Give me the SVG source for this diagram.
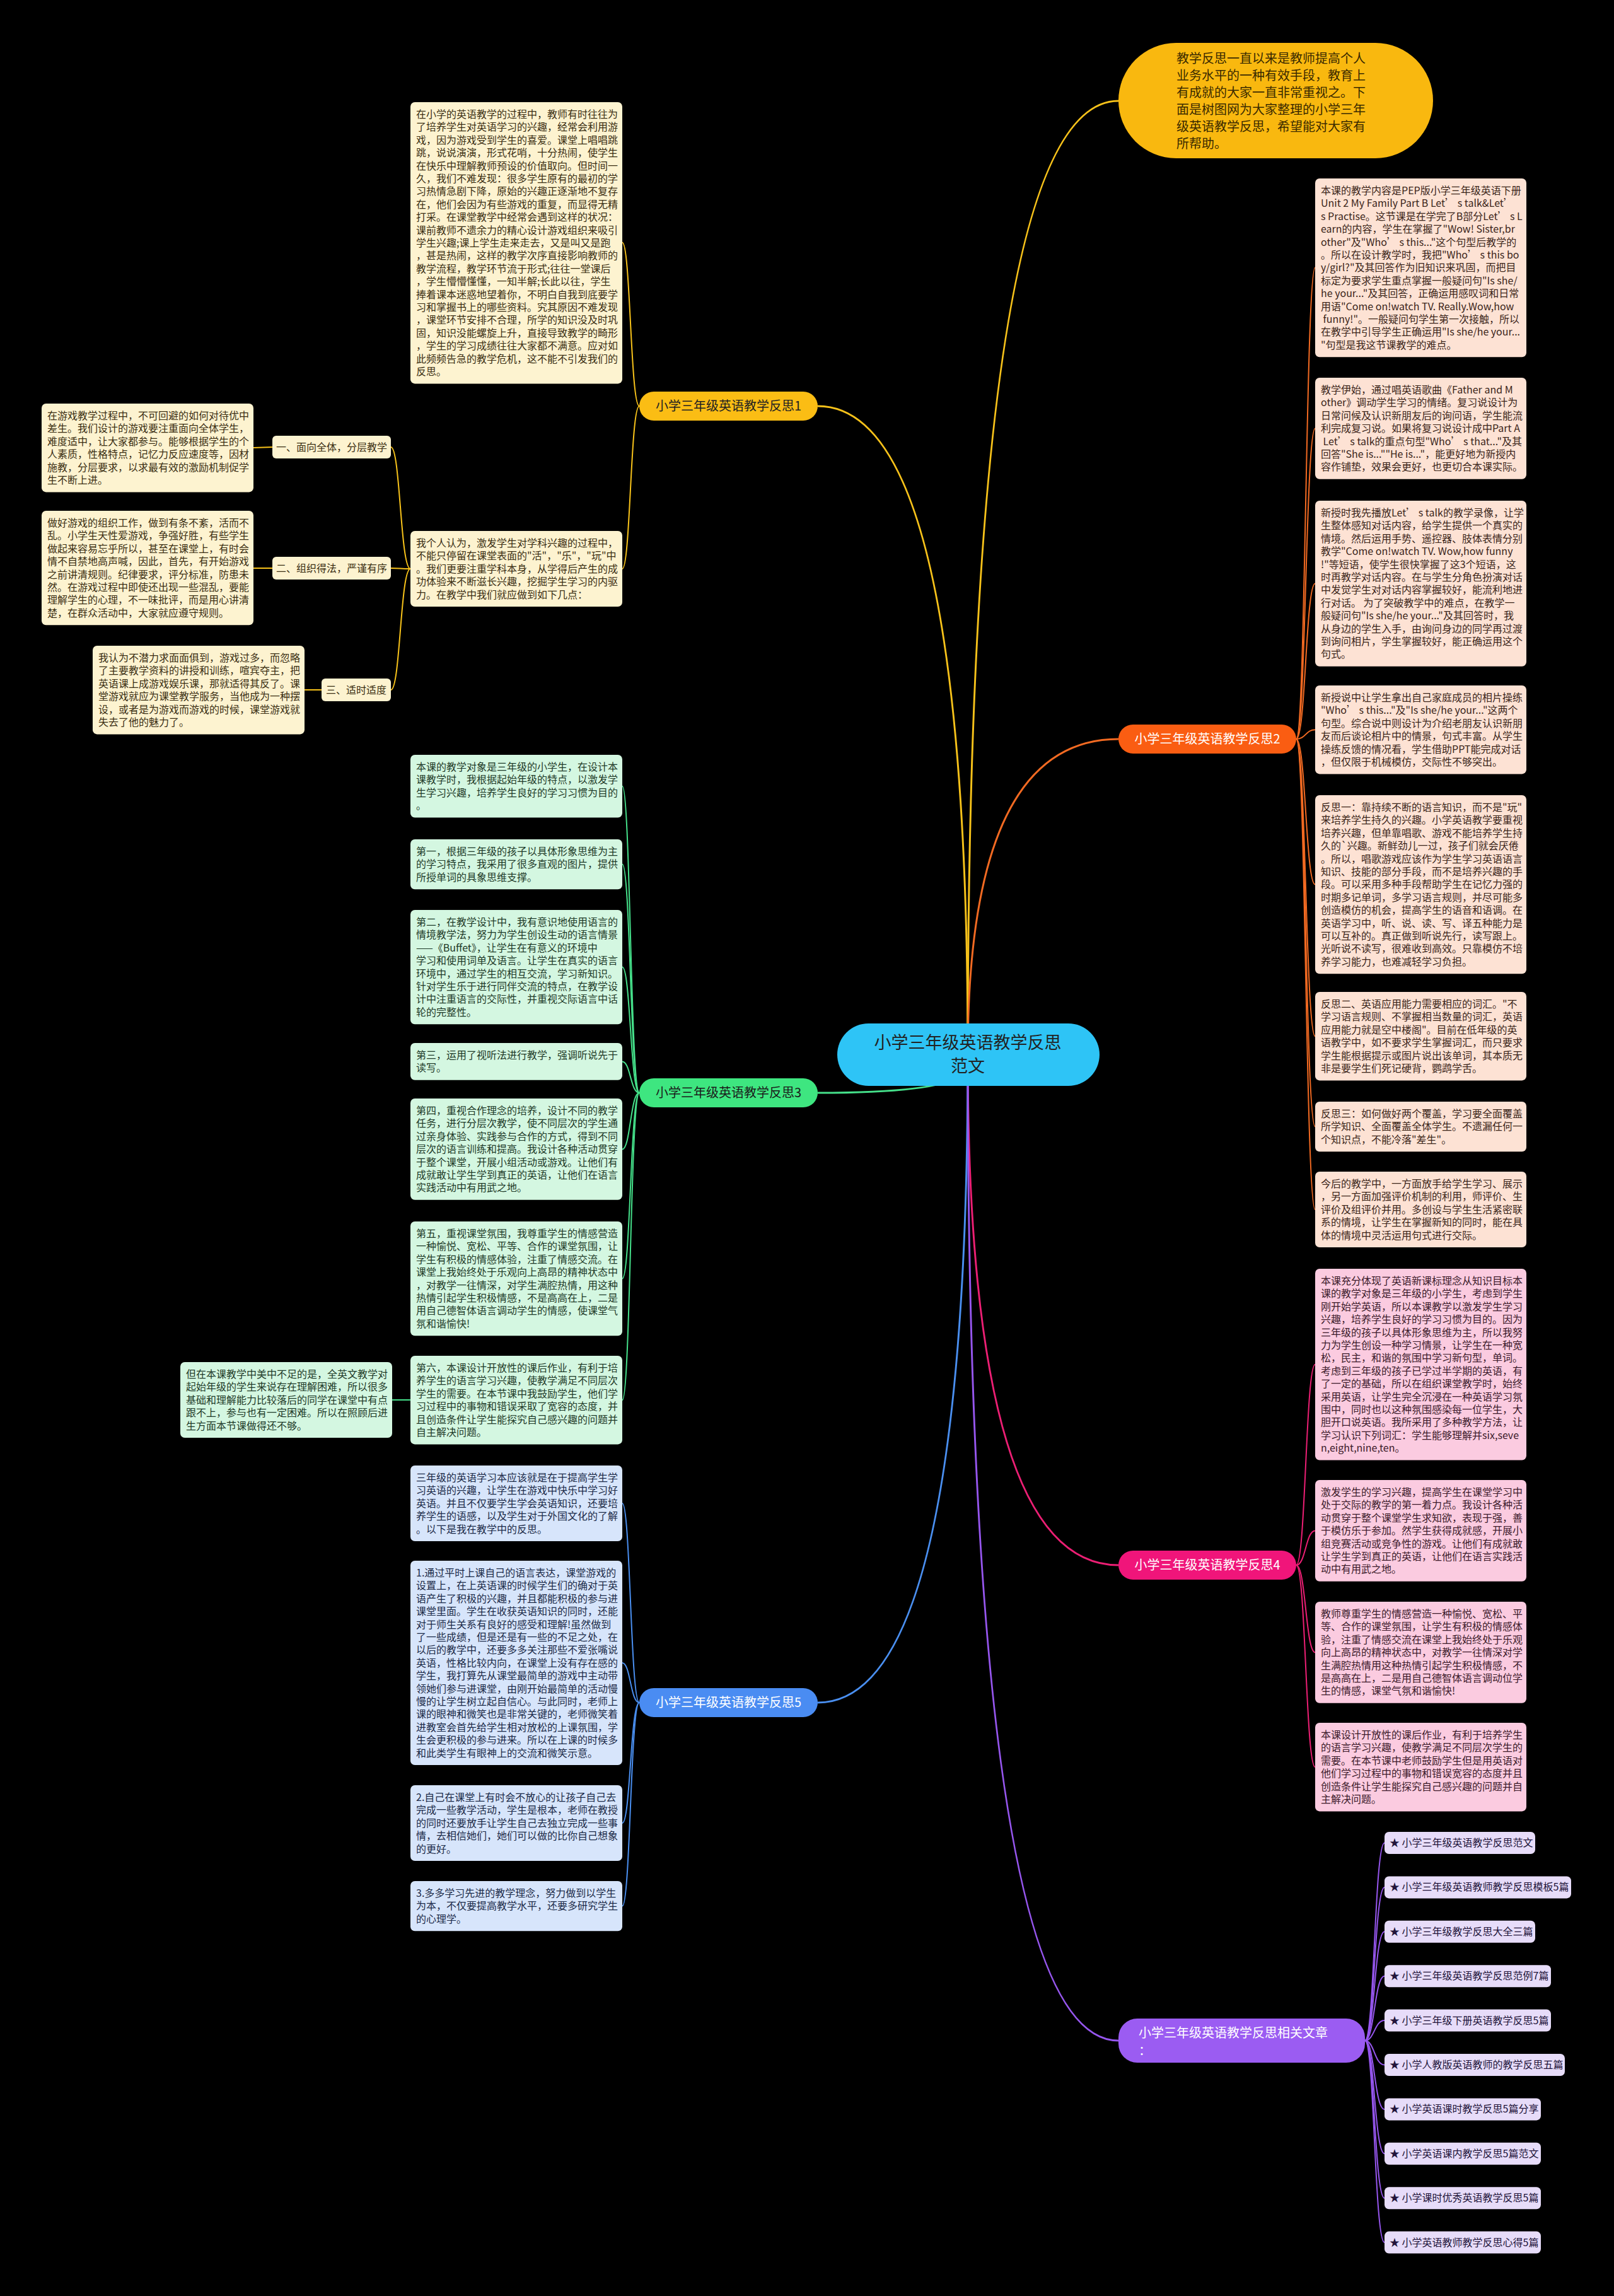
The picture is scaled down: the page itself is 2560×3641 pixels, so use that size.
<svg xmlns="http://www.w3.org/2000/svg" width="2560" height="3641" viewBox="0 0 2560 3641">
<style>
text{font-family:"Noto Sans CJK SC","Noto Sans",sans-serif}
.t{font-size:16px}
.lb{font-size:20px}
.k{fill:none;stroke-width:2}
.km{fill:none;stroke-width:3}
.y{stroke:#f7c21a}.o{stroke:#f26a22}.g{stroke:#45e08a}.p{stroke:#ec1f74}.b{stroke:#4a8ff0}.v{stroke:#9656ee}
.bx1{fill:#fdf3d0}.tx1{fill:#3a2e12}
.bx3{fill:#d4f7e1}.tx3{fill:#1e3a28}
.bx5{fill:#d7e5fb}.tx5{fill:#1b2a48}
.bx2{fill:#fde2d4}.tx2{fill:#3b2519}
.bx4{fill:#fbcbe0}.tx4{fill:#3b1a2a}
.bxv{fill:#e7dcf9}.txv{fill:#22143a}
</style>
<rect x="0" y="0" width="2560" height="3641" fill="#000"/>
<g id="connectors">
<path class="km y" d="M1535,1672 Q1535,160 1774,160"/>
<path class="km y" d="M1535,1672 Q1535,644 1297,644"/>
<path class="km o" d="M1535,1672 Q1535,1172 1774,1172"/>
<path class="km g" d="M1535,1690 Q1535,1733 1297,1733"/>
<path class="km p" d="M1535,1672 Q1535,2482 1774,2482"/>
<path class="km b" d="M1535,1672 Q1535,2700 1297,2700"/>
<path class="km v" d="M1535,1672 Q1535,3236 1774,3236"/>
<path class="k y" d="M1014,644 C1000,644 1000,384.6 987,384.6"/>
<path class="k y" d="M1014,644 C1000,644 1000,902 987,902"/>
<path class="k y" d="M651,902 C635,902 635,709 620,709"/>
<path class="k y" d="M651,902 C635,902 635,901 620,901"/>
<path class="k y" d="M651,902 C635,902 635,1094 620,1094"/>
<path class="k y" d="M432,709 L402,710"/>
<path class="k y" d="M432,901 L402,901"/>
<path class="k y" d="M510,1094 L483,1094"/>
<path class="k g" d="M1014,1733 C1000,1733 1000,1246.8 987,1246.8"/>
<path class="k g" d="M1014,1733 C1000,1733 1000,1370.6 987,1370.6"/>
<path class="k g" d="M1014,1733 C1000,1733 1000,1533.6 987,1533.6"/>
<path class="k g" d="M1014,1733 C1000,1733 1000,1683.4 987,1683.4"/>
<path class="k g" d="M1014,1733 C1000,1733 1000,1822.4 987,1822.4"/>
<path class="k g" d="M1014,1733 C1000,1733 1000,2027.6 987,2027.6"/>
<path class="k g" d="M1014,1733 C1000,1733 1000,2220.2 987,2220.2"/>
<path class="k g" d="M651,2220 L622,2220"/>
<path class="k b" d="M1014,2700 C1000,2700 1000,2384 987,2384"/>
<path class="k b" d="M1014,2700 C1000,2700 1000,2637 987,2637"/>
<path class="k b" d="M1014,2700 C1000,2700 1000,2891 987,2891"/>
<path class="k b" d="M1014,2700 C1000,2700 1000,3022.6 987,3022.6"/>
<path class="k o" d="M2056,1172 C2071,1172 2071,424.6 2086,424.6"/>
<path class="k o" d="M2056,1172 C2071,1172 2071,679.4 2086,679.4"/>
<path class="k o" d="M2056,1172 C2071,1172 2071,925.4 2086,925.4"/>
<path class="k o" d="M2056,1172 C2071,1172 2071,1157.2 2086,1157.2"/>
<path class="k o" d="M2056,1172 C2071,1172 2071,1402.6 2086,1402.6"/>
<path class="k o" d="M2056,1172 C2071,1172 2071,1643.2 2086,1643.2"/>
<path class="k o" d="M2056,1172 C2071,1172 2071,1786.6 2086,1786.6"/>
<path class="k o" d="M2056,1172 C2071,1172 2071,1918 2086,1918"/>
<path class="k p" d="M2056,2482 C2071,2482 2071,2163.8 2086,2163.8"/>
<path class="k p" d="M2056,2482 C2071,2482 2071,2427.4 2086,2427.4"/>
<path class="k p" d="M2056,2482 C2071,2482 2071,2620.4 2086,2620.4"/>
<path class="k p" d="M2056,2482 C2071,2482 2071,2802.2 2086,2802.2"/>
<path class="k v" d="M2165,3236 C2180,3236 2180,2922.5 2196,2922.5"/>
<path class="k v" d="M2165,3236 C2180,3236 2180,2992.9 2196,2992.9"/>
<path class="k v" d="M2165,3236 C2180,3236 2180,3063.3 2196,3063.3"/>
<path class="k v" d="M2165,3236 C2180,3236 2180,3133.7 2196,3133.7"/>
<path class="k v" d="M2165,3236 C2180,3236 2180,3204.1 2196,3204.1"/>
<path class="k v" d="M2165,3236 C2180,3236 2180,3274.5 2196,3274.5"/>
<path class="k v" d="M2165,3236 C2180,3236 2180,3344.9 2196,3344.9"/>
<path class="k v" d="M2165,3236 C2180,3236 2180,3415.3 2196,3415.3"/>
<path class="k v" d="M2165,3236 C2180,3236 2180,3485.7 2196,3485.7"/>
<path class="k v" d="M2165,3236 C2180,3236 2180,3556.1 2196,3556.1"/>
</g>

<g id="center">
<rect x="1328" y="1623" width="416" height="99" rx="49.5" fill="#2ec4f6"/>
<text x="1535" y="1663" font-size="27" text-anchor="middle" fill="#222"><tspan x="1535">小学三年级英语教学反思</tspan><tspan x="1535" dy="37">范文</tspan></text>
</g>

<g id="intro">
<rect x="1774" y="68" width="499" height="183" rx="91.5" fill="#f9b80f"/>
<text x="1866" y="100" font-size="20" fill="#3a2a00"><tspan x="1866">教学反思一直以来是教师提高个人</tspan><tspan x="1866" dy="27">业务水平的一种有效手段，教育上</tspan><tspan x="1866" dy="27">有成就的大家一直非常重视之。下</tspan><tspan x="1866" dy="27">面是树图网为大家整理的小学三年</tspan><tspan x="1866" dy="27">级英语教学反思，希望能对大家有</tspan><tspan x="1866" dy="27">所帮助。</tspan></text>
</g>

<g id="branch1">
<rect x="1014" y="621" width="283" height="46" rx="23" fill="#fbbd14"/>
<text class="lb" x="1155.5" y="651" text-anchor="middle" fill="#222">小学三年级英语教学反思1</text>
</g>
<g id="b1-intro">
<rect class="bx1" x="651" y="162" width="336" height="446.4" rx="7"/>
<text class="t tx1" x="660" y="187"><tspan x="660">在小学的英语教学的过程中，教师有时往往为</tspan><tspan x="660" dy="20.4">了培养学生对英语学习的兴趣，经常会利用游</tspan><tspan x="660" dy="20.4">戏，因为游戏受到学生的喜爱。课堂上唱唱跳</tspan><tspan x="660" dy="20.4">跳，说说演演，形式花哨，十分热闹，使学生</tspan><tspan x="660" dy="20.4">在快乐中理解教师预设的价值取向。但时间一</tspan><tspan x="660" dy="20.4">久，我们不难发现：很多学生原有的最初的学</tspan><tspan x="660" dy="20.4">习热情急剧下降，原始的兴趣正逐渐地不复存</tspan><tspan x="660" dy="20.4">在，他们会因为有些游戏的重复，而显得无精</tspan><tspan x="660" dy="20.4">打采。在课堂教学中经常会遇到这样的状况：</tspan><tspan x="660" dy="20.4">课前教师不遗余力的精心设计游戏组织来吸引</tspan><tspan x="660" dy="20.4">学生兴趣;课上学生走来走去，又是叫又是跑</tspan><tspan x="660" dy="20.4">，甚是热闹，这样的教学次序直接影响教师的</tspan><tspan x="660" dy="20.4">教学流程，教学环节流于形式;往往一堂课后</tspan><tspan x="660" dy="20.4">，学生懵懵懂懂，一知半解;长此以往，学生</tspan><tspan x="660" dy="20.4">捧着课本迷惑地望着你，不明白自我到底要学</tspan><tspan x="660" dy="20.4">习和掌握书上的哪些资料。究其原因不难发现</tspan><tspan x="660" dy="20.4">，课堂环节安排不合理，所学的知识没及时巩</tspan><tspan x="660" dy="20.4">固，知识没能螺旋上升，直接导致教学的畸形</tspan><tspan x="660" dy="20.4">，学生的学习成绩往往大家都不满意。应对如</tspan><tspan x="660" dy="20.4">此频频告急的教学危机，这不能不引发我们的</tspan><tspan x="660" dy="20.4">反思。</tspan></text>
</g>
<g id="b1-view">
<rect class="bx1" x="651" y="842" width="336" height="120" rx="7"/>
<text class="t tx1" x="660" y="867"><tspan x="660">我个人认为，激发学生对学科兴趣的过程中，</tspan><tspan x="660" dy="20.4">不能只停留在课堂表面的"活"，"乐"，"玩"中</tspan><tspan x="660" dy="20.4">。我们更要注重学科本身，从学得后产生的成</tspan><tspan x="660" dy="20.4">功体验来不断滋长兴趣，挖掘学生学习的内驱</tspan><tspan x="660" dy="20.4">力。在教学中我们就应做到如下几点：</tspan></text>
</g>
<g id="b1-p1">
<rect class="bx1" x="432" y="691" width="188" height="36" rx="6"/>
<text class="t tx1" x="526" y="714.6" text-anchor="middle">一、面向全体，分层教学</text>
</g>
<g id="b1-p2">
<rect class="bx1" x="432" y="883" width="188" height="36" rx="6"/>
<text class="t tx1" x="526" y="906.6" text-anchor="middle">二、组织得法，严谨有序</text>
</g>
<g id="b1-p3">
<rect class="bx1" x="510" y="1076" width="110" height="36" rx="6"/>
<text class="t tx1" x="565" y="1099.6" text-anchor="middle">三、适时适度</text>
</g>
<g id="b1-p1-text">
<rect class="bx1" x="66" y="640" width="336" height="140.4" rx="7"/>
<text class="t tx1" x="75" y="665"><tspan x="75">在游戏教学过程中，不可回避的如何对待优中</tspan><tspan x="75" dy="20.4">差生。我们设计的游戏要注重面向全体学生，</tspan><tspan x="75" dy="20.4">难度适中，让大家都参与。能够根据学生的个</tspan><tspan x="75" dy="20.4">人素质，性格特点，记忆力反应速度等，因材</tspan><tspan x="75" dy="20.4">施教，分层要求，以求最有效的激励机制促学</tspan><tspan x="75" dy="20.4">生不断上进。</tspan></text>
</g>
<g id="b1-p2-text">
<rect class="bx1" x="66" y="810" width="336" height="181.2" rx="7"/>
<text class="t tx1" x="75" y="835"><tspan x="75">做好游戏的组织工作，做到有条不紊，活而不</tspan><tspan x="75" dy="20.4">乱。小学生天性爱游戏，争强好胜，有些学生</tspan><tspan x="75" dy="20.4">做起来容易忘乎所以，甚至在课堂上，有时会</tspan><tspan x="75" dy="20.4">情不自禁地高声喊，因此，首先，有开始游戏</tspan><tspan x="75" dy="20.4">之前讲清规则。纪律要求，评分标准，防患未</tspan><tspan x="75" dy="20.4">然。在游戏过程中即使还出现一些混乱，要能</tspan><tspan x="75" dy="20.4">理解学生的心理，不一味批评，而是用心讲清</tspan><tspan x="75" dy="20.4">楚，在群众活动中，大家就应遵守规则。</tspan></text>
</g>
<g id="b1-p3-text">
<rect class="bx1" x="147" y="1024" width="336" height="140.4" rx="7"/>
<text class="t tx1" x="156" y="1049"><tspan x="156">我认为不潜力求面面俱到，游戏过多，而忽略</tspan><tspan x="156" dy="20.4">了主要教学资料的讲授和训练，喧宾夺主，把</tspan><tspan x="156" dy="20.4">英语课上成游戏娱乐课，那就适得其反了。课</tspan><tspan x="156" dy="20.4">堂游戏就应为课堂教学服务，当他成为一种摆</tspan><tspan x="156" dy="20.4">设，或者是为游戏而游戏的时候，课堂游戏就</tspan><tspan x="156" dy="20.4">失去了他的魅力了。</tspan></text>
</g>

<g id="branch3">
<rect x="1014" y="1710" width="283" height="46" rx="23" fill="#3ee680"/>
<text class="lb" x="1155.5" y="1740" text-anchor="middle" fill="#1a1a1a">小学三年级英语教学反思3</text>
</g>
<g id="b3-1">
<rect class="bx3" x="651" y="1197" width="336" height="99.6" rx="7"/>
<text class="t tx3" x="660" y="1222"><tspan x="660">本课的教学对象是三年级的小学生，在设计本</tspan><tspan x="660" dy="20.4">课教学时，我根据起始年级的特点，以激发学</tspan><tspan x="660" dy="20.4">生学习兴趣，培养学生良好的学习习惯为目的</tspan><tspan x="660" dy="20.4">。</tspan></text>
</g>
<g id="b3-2">
<rect class="bx3" x="651" y="1331" width="336" height="79.2" rx="7"/>
<text class="t tx3" x="660" y="1356"><tspan x="660">第一，根据三年级的孩子以具体形象思维为主</tspan><tspan x="660" dy="20.4">的学习特点，我采用了很多直观的图片，提供</tspan><tspan x="660" dy="20.4">所授单词的具象思维支撑。</tspan></text>
</g>
<g id="b3-3">
<rect class="bx3" x="651" y="1443" width="336" height="181.2" rx="7"/>
<text class="t tx3" x="660" y="1468"><tspan x="660">第二，在教学设计中，我有意识地使用语言的</tspan><tspan x="660" dy="20.4">情境教学法，努力为学生创设生动的语言情景</tspan><tspan x="660" dy="20.4">——《Buffet》，让学生在有意义的环境中</tspan><tspan x="660" dy="20.4">学习和使用词单及语言。让学生在真实的语言</tspan><tspan x="660" dy="20.4">环境中，通过学生的相互交流，学习新知识。</tspan><tspan x="660" dy="20.4">针对学生乐于进行同伴交流的特点，在教学设</tspan><tspan x="660" dy="20.4">计中注重语言的交际性，并重视交际语言中话</tspan><tspan x="660" dy="20.4">轮的完整性。</tspan></text>
</g>
<g id="b3-4">
<rect class="bx3" x="651" y="1654" width="336" height="58.8" rx="7"/>
<text class="t tx3" x="660" y="1679"><tspan x="660">第三，运用了视听法进行教学，强调听说先于</tspan><tspan x="660" dy="20.4">读写。</tspan></text>
</g>
<g id="b3-5">
<rect class="bx3" x="651" y="1742" width="336" height="160.8" rx="7"/>
<text class="t tx3" x="660" y="1767"><tspan x="660">第四，重视合作理念的培养，设计不同的教学</tspan><tspan x="660" dy="20.4">任务，进行分层次教学，使不同层次的学生通</tspan><tspan x="660" dy="20.4">过亲身体验、实践参与合作的方式，得到不同</tspan><tspan x="660" dy="20.4">层次的语言训练和提高。我设计各种活动贯穿</tspan><tspan x="660" dy="20.4">于整个课堂，开展小组活动或游戏。让他们有</tspan><tspan x="660" dy="20.4">成就敢让学生学到真正的英语，让他们在语言</tspan><tspan x="660" dy="20.4">实践活动中有用武之地。</tspan></text>
</g>
<g id="b3-6">
<rect class="bx3" x="651" y="1937" width="336" height="181.2" rx="7"/>
<text class="t tx3" x="660" y="1962"><tspan x="660">第五，重视课堂氛围，我尊重学生的情感营造</tspan><tspan x="660" dy="20.4">一种愉悦、宽松、平等、合作的课堂氛围，让</tspan><tspan x="660" dy="20.4">学生有积极的情感体验，注重了情感交流。在</tspan><tspan x="660" dy="20.4">课堂上我始终处于乐观向上高昂的精神状态中</tspan><tspan x="660" dy="20.4">，对教学一往情深，对学生满腔热情，用这种</tspan><tspan x="660" dy="20.4">热情引起学生积极情感，不是高高在上，二是</tspan><tspan x="660" dy="20.4">用自己德智体语言调动学生的情感，使课堂气</tspan><tspan x="660" dy="20.4">氛和谐愉快!</tspan></text>
</g>
<g id="b3-7">
<rect class="bx3" x="651" y="2150" width="336" height="140.4" rx="7"/>
<text class="t tx3" x="660" y="2175"><tspan x="660">第六，本课设计开放性的课后作业，有利于培</tspan><tspan x="660" dy="20.4">养学生的语言学习兴趣，使教学满足不同层次</tspan><tspan x="660" dy="20.4">学生的需要。在本节课中我鼓励学生，他们学</tspan><tspan x="660" dy="20.4">习过程中的事物和错误采取了宽容的态度，并</tspan><tspan x="660" dy="20.4">且创造条件让学生能探究自己感兴趣的问题并</tspan><tspan x="660" dy="20.4">自主解决问题。</tspan></text>
</g>
<g id="b3-7-1">
<rect class="bx3" x="286" y="2160" width="336" height="120" rx="7"/>
<text class="t tx3" x="295" y="2185"><tspan x="295">但在本课教学中美中不足的是，全英文教学对</tspan><tspan x="295" dy="20.4">起始年级的学生来说存在理解困难，所以很多</tspan><tspan x="295" dy="20.4">基础和理解能力比较落后的同学在课堂中有点</tspan><tspan x="295" dy="20.4">跟不上，参与也有一定困难。所以在照顾后进</tspan><tspan x="295" dy="20.4">生方面本节课做得还不够。</tspan></text>
</g>

<g id="branch5">
<rect x="1014" y="2677" width="283" height="46" rx="23" fill="#4a8cf2"/>
<text class="lb" x="1155.5" y="2707" text-anchor="middle" fill="#fff">小学三年级英语教学反思5</text>
</g>
<g id="b5-1">
<rect class="bx5" x="651" y="2324" width="336" height="120" rx="7"/>
<text class="t tx5" x="660" y="2349"><tspan x="660">三年级的英语学习本应该就是在于提高学生学</tspan><tspan x="660" dy="20.4">习英语的兴趣，让学生在游戏中快乐中学习好</tspan><tspan x="660" dy="20.4">英语。并且不仅要学生学会英语知识，还要培</tspan><tspan x="660" dy="20.4">养学生的语感，以及学生对于外国文化的了解</tspan><tspan x="660" dy="20.4">。以下是我在教学中的反思。</tspan></text>
</g>
<g id="b5-2">
<rect class="bx5" x="651" y="2475" width="336" height="324" rx="7"/>
<text class="t tx5" x="660" y="2500"><tspan x="660">1.通过平时上课自己的语言表达，课堂游戏的</tspan><tspan x="660" dy="20.4">设置上，在上英语课的时候学生们的确对于英</tspan><tspan x="660" dy="20.4">语产生了积极的兴趣，并且都能积极的参与进</tspan><tspan x="660" dy="20.4">课堂里面。学生在收获英语知识的同时，还能</tspan><tspan x="660" dy="20.4">对于师生关系有良好的感受和理解!虽然做到</tspan><tspan x="660" dy="20.4">了一些成绩，但是还是有一些的不足之处，在</tspan><tspan x="660" dy="20.4">以后的教学中，还要多多关注那些不爱张嘴说</tspan><tspan x="660" dy="20.4">英语，性格比较内向，在课堂上没有存在感的</tspan><tspan x="660" dy="20.4">学生，我打算先从课堂最简单的游戏中主动带</tspan><tspan x="660" dy="20.4">领她们参与进课堂，由刚开始最简单的活动慢</tspan><tspan x="660" dy="20.4">慢的让学生树立起自信心。与此同时，老师上</tspan><tspan x="660" dy="20.4">课的眼神和微笑也是非常关键的，老师微笑着</tspan><tspan x="660" dy="20.4">进教室会首先给学生相对放松的上课氛围，学</tspan><tspan x="660" dy="20.4">生会更积极的参与进来。所以在上课的时候多</tspan><tspan x="660" dy="20.4">和此类学生有眼神上的交流和微笑示意。</tspan></text>
</g>
<g id="b5-3">
<rect class="bx5" x="651" y="2831" width="336" height="120" rx="7"/>
<text class="t tx5" x="660" y="2856"><tspan x="660">2.自己在课堂上有时会不放心的让孩子自己去</tspan><tspan x="660" dy="20.4">完成一些教学活动，学生是根本，老师在教授</tspan><tspan x="660" dy="20.4">的同时还要放手让学生自己去独立完成一些事</tspan><tspan x="660" dy="20.4">情，去相信她们，她们可以做的比你自己想象</tspan><tspan x="660" dy="20.4">的更好。</tspan></text>
</g>
<g id="b5-4">
<rect class="bx5" x="651" y="2983" width="336" height="79.2" rx="7"/>
<text class="t tx5" x="660" y="3008"><tspan x="660">3.多多学习先进的教学理念，努力做到以学生</tspan><tspan x="660" dy="20.4">为本，不仅要提高教学水平，还要多研究学生</tspan><tspan x="660" dy="20.4">的心理学。</tspan></text>
</g>

<g id="branch2">
<rect x="1774" y="1149" width="282" height="46" rx="23" fill="#fa5d12"/>
<text class="lb" x="1915" y="1179" text-anchor="middle" fill="#fff">小学三年级英语教学反思2</text>
</g>
<g id="b2-1">
<rect class="bx2" x="2086" y="283" width="335" height="283.2" rx="7"/>
<text class="t tx2" x="2095" y="308"><tspan x="2095">本课的教学内容是PEP版小学三年级英语下册</tspan><tspan x="2095" dy="20.4">Unit 2 My Family Part B Let’ s talk&amp;Let’</tspan><tspan x="2095" dy="20.4">s Practise。这节课是在学完了B部分Let’ s L</tspan><tspan x="2095" dy="20.4">earn的内容，学生在掌握了"Wow! Sister,br</tspan><tspan x="2095" dy="20.4">other"及"Who’ s this..."这个句型后教学的</tspan><tspan x="2095" dy="20.4">。所以在设计教学时，我把"Who’ s this bo</tspan><tspan x="2095" dy="20.4">y/girl?"及其回答作为旧知识来巩固，而把目</tspan><tspan x="2095" dy="20.4">标定为要求学生重点掌握一般疑问句"Is she/</tspan><tspan x="2095" dy="20.4">he your..."及其回答，正确运用感叹词和日常</tspan><tspan x="2095" dy="20.4">用语"Come on!watch TV. Really.Wow,how</tspan><tspan x="2095" dy="20.4"> funny!"。一般疑问句学生第一次接触，所以</tspan><tspan x="2095" dy="20.4">在教学中引导学生正确运用"Is she/he your...</tspan><tspan x="2095" dy="20.4">"句型是我这节课教学的难点。</tspan></text>
</g>
<g id="b2-2">
<rect class="bx2" x="2086" y="599" width="335" height="160.8" rx="7"/>
<text class="t tx2" x="2095" y="624"><tspan x="2095">教学伊始，通过唱英语歌曲《Father and M</tspan><tspan x="2095" dy="20.4">other》调动学生学习的情绪。复习说设计为</tspan><tspan x="2095" dy="20.4">日常问候及认识新朋友后的询问语，学生能流</tspan><tspan x="2095" dy="20.4">利完成复习说。如果将复习说设计成中Part A</tspan><tspan x="2095" dy="20.4"> Let’ s talk的重点句型"Who’ s that..."及其</tspan><tspan x="2095" dy="20.4">回答"She is...""He is..."，能更好地为新授内</tspan><tspan x="2095" dy="20.4">容作铺垫，效果会更好，也更切合本课实际。</tspan></text>
</g>
<g id="b2-3">
<rect class="bx2" x="2086" y="794" width="335" height="262.8" rx="7"/>
<text class="t tx2" x="2095" y="819"><tspan x="2095">新授时我先播放Let’ s talk的教学录像，让学</tspan><tspan x="2095" dy="20.4">生整体感知对话内容，给学生提供一个真实的</tspan><tspan x="2095" dy="20.4">情境。然后运用手势、遥控器、肢体表情分别</tspan><tspan x="2095" dy="20.4">教学"Come on!watch TV. Wow,how funny</tspan><tspan x="2095" dy="20.4">!"等短语，使学生很快掌握了这3个短语，这</tspan><tspan x="2095" dy="20.4">时再教学对话内容。在与学生分角色扮演对话</tspan><tspan x="2095" dy="20.4">中发觉学生对对话内容掌握较好，能流利地进</tspan><tspan x="2095" dy="20.4">行对话。 为了突破教学中的难点，在教学一</tspan><tspan x="2095" dy="20.4">般疑问句"Is she/he your..."及其回答时，我</tspan><tspan x="2095" dy="20.4">从身边的学生入手，由询问身边的同学再过渡</tspan><tspan x="2095" dy="20.4">到询问相片，学生掌握较好，能正确运用这个</tspan><tspan x="2095" dy="20.4">句式。</tspan></text>
</g>
<g id="b2-4">
<rect class="bx2" x="2086" y="1087" width="335" height="140.4" rx="7"/>
<text class="t tx2" x="2095" y="1112"><tspan x="2095">新授说中让学生拿出自己家庭成员的相片操练</tspan><tspan x="2095" dy="20.4">"Who’ s this..."及"Is she/he your..."这两个</tspan><tspan x="2095" dy="20.4">句型。综合说中则设计为介绍老朋友认识新朋</tspan><tspan x="2095" dy="20.4">友而后谈论相片中的情景，句式丰富。从学生</tspan><tspan x="2095" dy="20.4">操练反馈的情况看，学生借助PPT能完成对话</tspan><tspan x="2095" dy="20.4">，但仅限于机械模仿，交际性不够突出。</tspan></text>
</g>
<g id="b2-5">
<rect class="bx2" x="2086" y="1261" width="335" height="283.2" rx="7"/>
<text class="t tx2" x="2095" y="1286"><tspan x="2095">反思一：靠持续不断的语言知识，而不是"玩"</tspan><tspan x="2095" dy="20.4">来培养学生持久的兴趣。小学英语教学要重视</tspan><tspan x="2095" dy="20.4">培养兴趣，但单靠唱歌、游戏不能培养学生持</tspan><tspan x="2095" dy="20.4">久的`兴趣。新鲜劲儿一过，孩子们就会厌倦</tspan><tspan x="2095" dy="20.4">。所以，唱歌游戏应该作为学生学习英语语言</tspan><tspan x="2095" dy="20.4">知识、技能的部分手段，而不是培养兴趣的手</tspan><tspan x="2095" dy="20.4">段。可以采用多种手段帮助学生在记忆力强的</tspan><tspan x="2095" dy="20.4">时期多记单词，多学习语言规则，并尽可能多</tspan><tspan x="2095" dy="20.4">创造模仿的机会，提高学生的语音和语调。在</tspan><tspan x="2095" dy="20.4">英语学习中，听、说、读、写、译五种能力是</tspan><tspan x="2095" dy="20.4">可以互补的。真正做到听说先行，读写跟上。</tspan><tspan x="2095" dy="20.4">光听说不读写，很难收到高效。只靠模仿不培</tspan><tspan x="2095" dy="20.4">养学习能力，也难减轻学习负担。</tspan></text>
</g>
<g id="b2-6">
<rect class="bx2" x="2086" y="1573" width="335" height="140.4" rx="7"/>
<text class="t tx2" x="2095" y="1598"><tspan x="2095">反思二、英语应用能力需要相应的词汇。"不</tspan><tspan x="2095" dy="20.4">学习语言规则、不掌握相当数量的词汇，英语</tspan><tspan x="2095" dy="20.4">应用能力就是空中楼阁"。目前在低年级的英</tspan><tspan x="2095" dy="20.4">语教学中，如不要求学生掌握词汇，而只要求</tspan><tspan x="2095" dy="20.4">学生能根据提示或图片说出该单词，其本质无</tspan><tspan x="2095" dy="20.4">非是要学生们死记硬背，鹦鹉学舌。</tspan></text>
</g>
<g id="b2-7">
<rect class="bx2" x="2086" y="1747" width="335" height="79.2" rx="7"/>
<text class="t tx2" x="2095" y="1772"><tspan x="2095">反思三：如何做好两个覆盖，学习要全面覆盖</tspan><tspan x="2095" dy="20.4">所学知识、全面覆盖全体学生。不遗漏任何一</tspan><tspan x="2095" dy="20.4">个知识点，不能冷落"差生"。</tspan></text>
</g>
<g id="b2-8">
<rect class="bx2" x="2086" y="1858" width="335" height="120" rx="7"/>
<text class="t tx2" x="2095" y="1883"><tspan x="2095">今后的教学中，一方面放手给学生学习、展示</tspan><tspan x="2095" dy="20.4">，另一方面加强评价机制的利用，师评价、生</tspan><tspan x="2095" dy="20.4">评价及组评价并用。多创设与学生生活紧密联</tspan><tspan x="2095" dy="20.4">系的情境，让学生在掌握新知的同时，能在具</tspan><tspan x="2095" dy="20.4">体的情境中灵活运用句式进行交际。</tspan></text>
</g>

<g id="branch4">
<rect x="1774" y="2459" width="282" height="46" rx="23" fill="#f0157a"/>
<text class="lb" x="1915" y="2489" text-anchor="middle" fill="#fff">小学三年级英语教学反思4</text>
</g>
<g id="b4-1">
<rect class="bx4" x="2086" y="2012" width="335" height="303.6" rx="7"/>
<text class="t tx4" x="2095" y="2037"><tspan x="2095">本课充分体现了英语新课标理念从知识目标本</tspan><tspan x="2095" dy="20.4">课的教学对象是三年级的小学生，考虑到学生</tspan><tspan x="2095" dy="20.4">刚开始学英语，所以本课教学以激发学生学习</tspan><tspan x="2095" dy="20.4">兴趣，培养学生良好的学习习惯为目的。因为</tspan><tspan x="2095" dy="20.4">三年级的孩子以具体形象思维为主，所以我努</tspan><tspan x="2095" dy="20.4">力为学生创设一种学习情景，让学生在一种宽</tspan><tspan x="2095" dy="20.4">松，民主，和谐的氛围中学习新句型，单词。</tspan><tspan x="2095" dy="20.4">考虑到三年级的孩子已学过半学期的英语，有</tspan><tspan x="2095" dy="20.4">了一定的基础，所以在组织课堂教学时，始终</tspan><tspan x="2095" dy="20.4">采用英语，让学生完全沉浸在一种英语学习氛</tspan><tspan x="2095" dy="20.4">围中，同时也以这种氛围感染每一位学生，大</tspan><tspan x="2095" dy="20.4">胆开口说英语。我所采用了多种教学方法，让</tspan><tspan x="2095" dy="20.4">学习认识下列词汇：学生能够理解并six,seve</tspan><tspan x="2095" dy="20.4">n,eight,nine,ten。</tspan></text>
</g>
<g id="b4-2">
<rect class="bx4" x="2086" y="2347" width="335" height="160.8" rx="7"/>
<text class="t tx4" x="2095" y="2372"><tspan x="2095">激发学生的学习兴趣，提高学生在课堂学习中</tspan><tspan x="2095" dy="20.4">处于交际的教学的第一着力点。我设计各种活</tspan><tspan x="2095" dy="20.4">动贯穿于整个课堂学生求知欲，表现于强，善</tspan><tspan x="2095" dy="20.4">于模仿乐于参加。然学生获得成就感，开展小</tspan><tspan x="2095" dy="20.4">组竞赛活动或竞争性的游戏。让他们有成就敢</tspan><tspan x="2095" dy="20.4">让学生学到真正的英语，让他们在语言实践活</tspan><tspan x="2095" dy="20.4">动中有用武之地。</tspan></text>
</g>
<g id="b4-3">
<rect class="bx4" x="2086" y="2540" width="335" height="160.8" rx="7"/>
<text class="t tx4" x="2095" y="2565"><tspan x="2095">教师尊重学生的情感营造一种愉悦、宽松、平</tspan><tspan x="2095" dy="20.4">等、合作的课堂氛围，让学生有积极的情感体</tspan><tspan x="2095" dy="20.4">验，注重了情感交流在课堂上我始终处于乐观</tspan><tspan x="2095" dy="20.4">向上高昂的精神状态中，对教学一往情深对学</tspan><tspan x="2095" dy="20.4">生满腔热情用这种热情引起学生积极情感，不</tspan><tspan x="2095" dy="20.4">是高高在上，二是用自己德智体语言调动位学</tspan><tspan x="2095" dy="20.4">生的情感，课堂气氛和谐愉快!</tspan></text>
</g>
<g id="b4-4">
<rect class="bx4" x="2086" y="2732" width="335" height="140.4" rx="7"/>
<text class="t tx4" x="2095" y="2757"><tspan x="2095">本课设计开放性的课后作业，有利于培养学生</tspan><tspan x="2095" dy="20.4">的语言学习兴趣，使教学满足不同层次学生的</tspan><tspan x="2095" dy="20.4">需要。在本节课中老师鼓励学生但是用英语对</tspan><tspan x="2095" dy="20.4">他们学习过程中的事物和错误宽容的态度并且</tspan><tspan x="2095" dy="20.4">创造条件让学生能探究自己感兴趣的问题并自</tspan><tspan x="2095" dy="20.4">主解决问题。</tspan></text>
</g>

<g id="related">
<rect x="1774" y="3201" width="391" height="70" rx="30" fill="#9b5cf2"/>
<text class="lb" x="1806" y="3231" fill="#fff"><tspan x="1806">小学三年级英语教学反思相关文章</tspan><tspan x="1806" dy="28">：</tspan></text>
</g>
<g id="rel-1"><rect class="bxv" x="2196" y="2905" width="239" height="35" rx="7"/><text class="t txv" x="2204" y="2928">★ 小学三年级英语教学反思范文</text></g>
<g id="rel-2"><rect class="bxv" x="2196" y="2975.4" width="296" height="35" rx="7"/><text class="t txv" x="2204" y="2998.4">★ 小学三年级英语教师教学反思模板5篇</text></g>
<g id="rel-3"><rect class="bxv" x="2196" y="3045.8" width="239" height="35" rx="7"/><text class="t txv" x="2204" y="3068.8">★ 小学三年级教学反思大全三篇</text></g>
<g id="rel-4"><rect class="bxv" x="2196" y="3116.2" width="264" height="35" rx="7"/><text class="t txv" x="2204" y="3139.2">★ 小学三年级英语教学反思范例7篇</text></g>
<g id="rel-5"><rect class="bxv" x="2196" y="3186.6" width="264" height="35" rx="7"/><text class="t txv" x="2204" y="3209.6">★ 小学三年级下册英语教学反思5篇</text></g>
<g id="rel-6"><rect class="bxv" x="2196" y="3257" width="286" height="35" rx="7"/><text class="t txv" x="2204" y="3280">★ 小学人教版英语教师的教学反思五篇</text></g>
<g id="rel-7"><rect class="bxv" x="2196" y="3327.4" width="248" height="35" rx="7"/><text class="t txv" x="2204" y="3350.4">★ 小学英语课时教学反思5篇分享</text></g>
<g id="rel-8"><rect class="bxv" x="2196" y="3397.8" width="248" height="35" rx="7"/><text class="t txv" x="2204" y="3420.8">★ 小学英语课内教学反思5篇范文</text></g>
<g id="rel-9"><rect class="bxv" x="2196" y="3468.2" width="248" height="35" rx="7"/><text class="t txv" x="2204" y="3491.2">★ 小学课时优秀英语教学反思5篇</text></g>
<g id="rel-10"><rect class="bxv" x="2196" y="3538.6" width="248" height="35" rx="7"/><text class="t txv" x="2204" y="3561.6">★ 小学英语教师教学反思心得5篇</text></g>
</svg>
